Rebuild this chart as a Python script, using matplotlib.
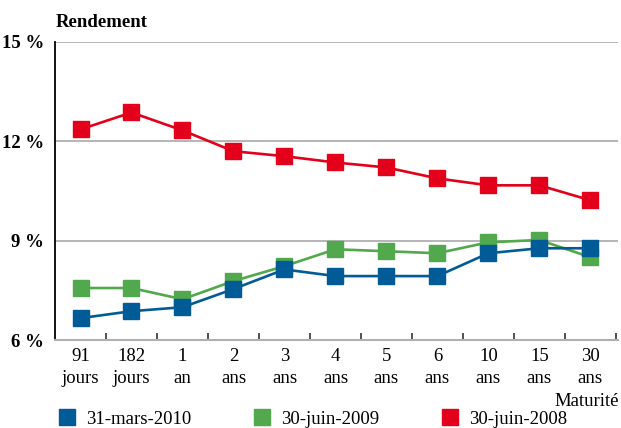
import matplotlib.pyplot as plt
from matplotlib.lines import Line2D
import numpy as np

plt.rcParams['font.family'] = ['Liberation Serif', 'DejaVu Serif']

# ------ data -----
maturites = ['91\njours', '182\njours', '1\nan', '2\nans', '3\nans', '4\nans',
             '5\nans', '6\nans', '10\nans', '15\nans', '30\nans']
mars_2010 = [6.66, 6.87, 6.99, 7.54, 8.13, 7.93, 7.93, 7.93, 8.62, 8.77, 8.77]
juin_2009 = [7.57, 7.57, 7.23, 7.78, 8.23, 8.74, 8.68, 8.62, 8.95, 9.02, 8.50]
juin_2008 = [12.36, 12.87, 12.33, 11.70, 11.55, 11.36, 11.21, 10.88, 10.67, 10.67, 10.22]
y_ticks = [6, 9, 12, 15]
legend_labels = ['31-mars-2010', '30-juin-2009', '30-juin-2008']
# -----------------

BLUE = '#005b96'
GREEN = '#52a84c'
RED = '#e2001a'
MS = 11.5
LW = 1.9
FS = 13.5

fig = plt.figure(figsize=(6.21, 4.28), dpi=100)
ax = fig.add_axes([0.0886, 0.2056, 0.9064, 0.6964])

x = np.arange(len(maturites))
ax.plot(x, juin_2008, color=RED, lw=LW, marker='s', ms=MS, zorder=5)
ax.plot(x, juin_2009, color=GREEN, lw=LW, marker='s', ms=MS, zorder=6)
ax.plot(x, mars_2010, color=BLUE, lw=LW, marker='s', ms=MS, zorder=7)

ax.set_xlim(-0.5, 10.54)
ax.set_ylim(6, 15)
ax.set_yticks(y_ticks)
ax.set_yticklabels([f'{v} %' for v in y_ticks], fontsize=FS, fontweight='bold')
ax.tick_params(axis='y', length=0, pad=8)
ax.set_xticks(x)
ax.set_xticklabels(maturites, fontsize=FS, linespacing=1.35)
ax.set_xticks(np.arange(len(maturites)) + 0.5, minor=True)
ax.tick_params(axis='x', which='major', length=0, pad=6)
ax.tick_params(axis='x', which='minor', direction='in', length=5, width=1.2, color='#333333')

for v in y_ticks[1:]:
    ax.axhline(v, color='#b0b0b0', lw=1.3, zorder=1)

ax.spines['top'].set_visible(False)
ax.spines['right'].set_visible(False)
ax.spines['left'].set_color('black')
ax.spines['left'].set_linewidth(1.3)
ax.spines['bottom'].set_color('#b0b0b0')
ax.spines['bottom'].set_linewidth(1.5)

fig.text(0.089, 0.948, 'Rendement', fontsize=FS, fontweight='bold', va='center')
fig.text(0.997, 0.062, 'Maturité', fontsize=FS, ha='right', va='center')

handles = [Line2D([], [], ls='none', marker='s', ms=MS, color=c) for c in (BLUE, GREEN, RED)]
fig.legend(handles, legend_labels, loc='center left', bbox_to_anchor=(0.0925, 0.02), ncol=3,
           frameon=False, fontsize=FS, columnspacing=3.3, handletextpad=0.5,
           handlelength=1.0, borderaxespad=0, borderpad=0)

fig.savefig('out.png', dpi=100)
